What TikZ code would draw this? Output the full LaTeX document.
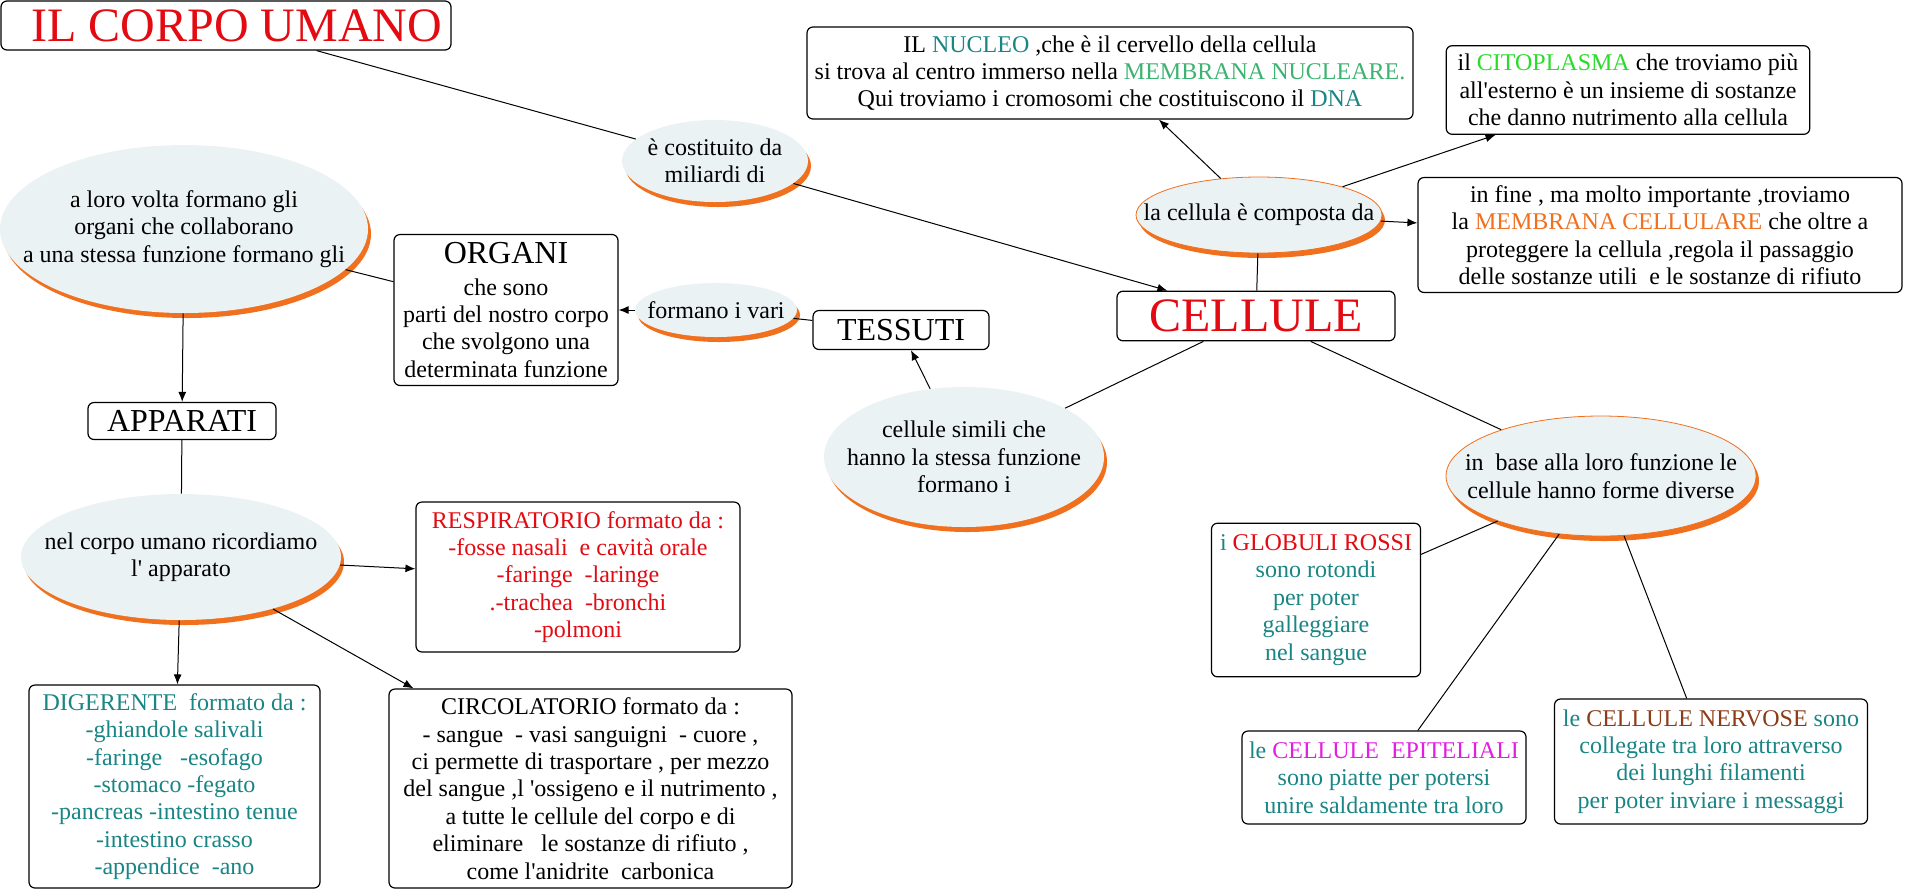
\documentclass[tikz,border=0pt]{standalone}
\usepackage{fontspec}
\setmainfont{Liberation Serif}[Ligatures=TeXOff]
\usepackage{tikz}
\usepackage{xcolor}
\usetikzlibrary{shapes.geometric}
\usetikzlibrary{shadows}
\usetikzlibrary{arrows.meta}
\definecolor{cred}{RGB}{228,10,18}
\definecolor{cteal}{RGB}{26,133,133}
\definecolor{cgreen}{RGB}{60,179,113}
\definecolor{clime}{RGB}{40,220,40}
\definecolor{corange}{RGB}{240,112,30}
\definecolor{cmagenta}{RGB}{225,30,225}
\definecolor{cbrown}{RGB}{140,60,25}
\definecolor{bubblefill}{RGB}{235,242,244}
\tikzstyle{concept} = [rectangle, rounded corners=3pt, draw=black, line width=0.6pt, fill=white, align=center, inner sep=0pt]
\tikzstyle{bubble} = [ellipse, fill=bubblefill, inner sep=0pt, drop shadow={shadow xshift=1.5pt, shadow yshift=-2.5pt, fill=corange, opacity=1}]
\tikzstyle{bubbleline} = [bubble, draw=corange, line width=0.4pt]
\tikzstyle{arrow} = [line width=0.5pt,->,>={Latex[length=5pt,width=4pt]}]
\tikzstyle{link} = [line width=0.5pt]

\begin{document}
\begin{tikzpicture}[x=0.5pt, y=-0.5pt, every node/.style={font=\fontsize{12}{13.7}\selectfont}]
    \useasboundingbox (0,0) rectangle (1906,891);

    % boxes
    \node (corpo) [concept, minimum width=225pt, minimum height=24.5pt, text=cred, font=\fontsize{24}{28}\selectfont] at (226,25.5) {\hspace*{11pt}IL CORPO UMANO};
    \node (cellule) [concept, minimum width=139pt, minimum height=24.8pt, text=cred, font=\fontsize{24}{28}\selectfont] at (1256,316) {CELLULE};
    \node (nucleo) [concept, minimum width=303pt, minimum height=46pt] at (1110,73) {IL \textcolor{cteal}{NUCLEO} ,che è il cervello della cellula\\si trova al centro immerso nella \textcolor{cgreen}{MEMBRANA NUCLEARE.}\\Qui troviamo i cromosomi che costituiscono il \textcolor{cteal}{DNA}};
    \node (citoplasma) [concept, minimum width=181.8pt, minimum height=44.3pt] at (1628,90) {il \textcolor{clime}{CITOPLASMA} che troviamo più\\all'esterno è un insieme di sostanze\\che danno nutrimento alla cellula};
    \node (membrana) [concept, minimum width=242pt, minimum height=57.5pt] at (1660,235) {in fine , ma molto importante ,troviamo\\la \textcolor{corange}{MEMBRANA CELLULARE} che oltre a\\proteggere la cellula ,regola il passaggio\\delle sostanze utili\ \ e le sostanze di rifiuto};
    \node (organi) [concept, minimum width=112pt, minimum height=75.5pt] at (506,310) {{\fontsize{16}{18}\selectfont ORGANI}\\[2pt]che sono\\parti del nostro corpo\\che svolgono una\\determinata funzione};
    \node (tessuti) [concept, minimum width=88pt, minimum height=19.5pt, font=\fontsize{16}{18}\selectfont] at (901,330) {TESSUTI};
    \node (apparati) [concept, minimum width=94pt, minimum height=18.5pt, font=\fontsize{16}{18}\selectfont] at (182,421) {APPARATI};
    \node (respiratorio) [concept, minimum width=162pt, minimum height=75pt, text=cred] at (578,577) {RESPIRATORIO formato da :\\-fosse nasali\ \ e cavità orale\\-faringe\ \ -laringe\\.-trachea\ \ -bronchi\\-polmoni};
    \node (digerente) [concept, minimum width=145.5pt, minimum height=101.5pt, text=cteal] at (174.5,786.5) {DIGERENTE\ \ formato da :\\-ghiandole salivali\\-faringe\ \ \ -esofago\\-stomaco -fegato\\-pancreas -intestino tenue\\-intestino crasso\\-appendice\ \ -ano};
    \node (circolatorio) [concept, minimum width=201.5pt, minimum height=99.5pt] at (590.5,788.5) {CIRCOLATORIO formato da :\\- sangue\ \ - vasi sanguigni\ \ - cuore ,\\ci permette di trasportare , per mezzo\\del sangue ,l 'ossigeno e il nutrimento ,\\a tutte le cellule del corpo e di\\eliminare\ \ \ le sostanze di rifiuto ,\\come l'anidrite\ \ carbonica};
    \node (globuli) [concept, minimum width=104.5pt, minimum height=76.8pt, text=cteal] at (1316,600) {i \textcolor{cred}{GLOBULI ROSSI}\\sono rotondi\\per poter\\galleggiare\\nel sangue};
    \node (epiteliali) [concept, minimum width=142pt, minimum height=46.5pt, text=cteal] at (1384,777.5) {le \textcolor{cmagenta}{CELLULE\ \ EPITELIALI}\\sono piatte per potersi\\unire saldamente tra loro};
    \node (nervose) [concept, minimum width=156.5pt, minimum height=62.5pt, text=cteal] at (1711,761.5) {le \textcolor{cbrown}{CELLULE NERVOSE} sono\\collegate tra loro attraverso\\dei lunghi filamenti\\per poter inviare i messaggi};

    % bubbles
    \node (costituito) [bubble, minimum width=93pt, minimum height=41pt, label={[align=center]center:{è costituito da\\miliardi di}}] at (715,161) {};
    \node (loro_volta) [bubble, minimum width=184pt, minimum height=84pt, label={[align=center]center:{a loro volta formano gli\\organi che collaborano\\a una stessa funzione formano gli}}] at (184,229) {};
    \node (vari) [bubble, minimum width=81pt, minimum height=27pt, label={center:formano i vari}] at (716,310) {};
    \node (nel_corpo) [bubble, minimum width=160pt, minimum height=63pt, label={[align=center]center:{nel corpo umano ricordiamo\\l' apparato}}] at (181,557) {};
    \node (composta) [bubbleline, minimum width=123pt, minimum height=38pt, label={center:la cellula è composta da}] at (1259,215) {};
    \node (simili) [bubble, minimum width=140pt, minimum height=70pt, label={[align=center]center:{cellule simili che\\hanno la stessa funzione\\formano i}}] at (964,457) {};
    \node (base) [bubbleline, minimum width=155pt, minimum height=60pt, label={[align=center]center:{in\ \ base alla loro funzione le\\cellule hanno forme diverse}}] at (1601,476) {};

    % connectors
    \draw [link] (corpo) -- (costituito);
    \draw [arrow] (costituito) -- (cellule);
    \draw [arrow] (composta) -- (nucleo);
    \draw [arrow] (composta) -- (citoplasma);
    \draw [arrow] (composta) -- (membrana);
    \draw [link] (composta) -- (cellule);
    \draw [link] (cellule) -- (simili);
    \draw [link] (cellule) -- (base);
    \draw [arrow] (simili) -- (tessuti);
    \draw [link] (tessuti) -- (vari);
    \draw [arrow] (vari) -- (organi);
    \draw [link] (organi) -- (loro_volta);
    \draw [arrow] (loro_volta) -- (apparati);
    \draw [link] (apparati) -- (nel_corpo);
    \draw [arrow] (nel_corpo) -- (respiratorio);
    \draw [arrow] (nel_corpo) -- (digerente);
    \draw [arrow] (nel_corpo) -- (circolatorio);
    \draw [link] (base) -- (globuli);
    \draw [link] (base) -- (epiteliali);
    \draw [link] (base) -- (nervose);
\end{tikzpicture}
\end{document}
